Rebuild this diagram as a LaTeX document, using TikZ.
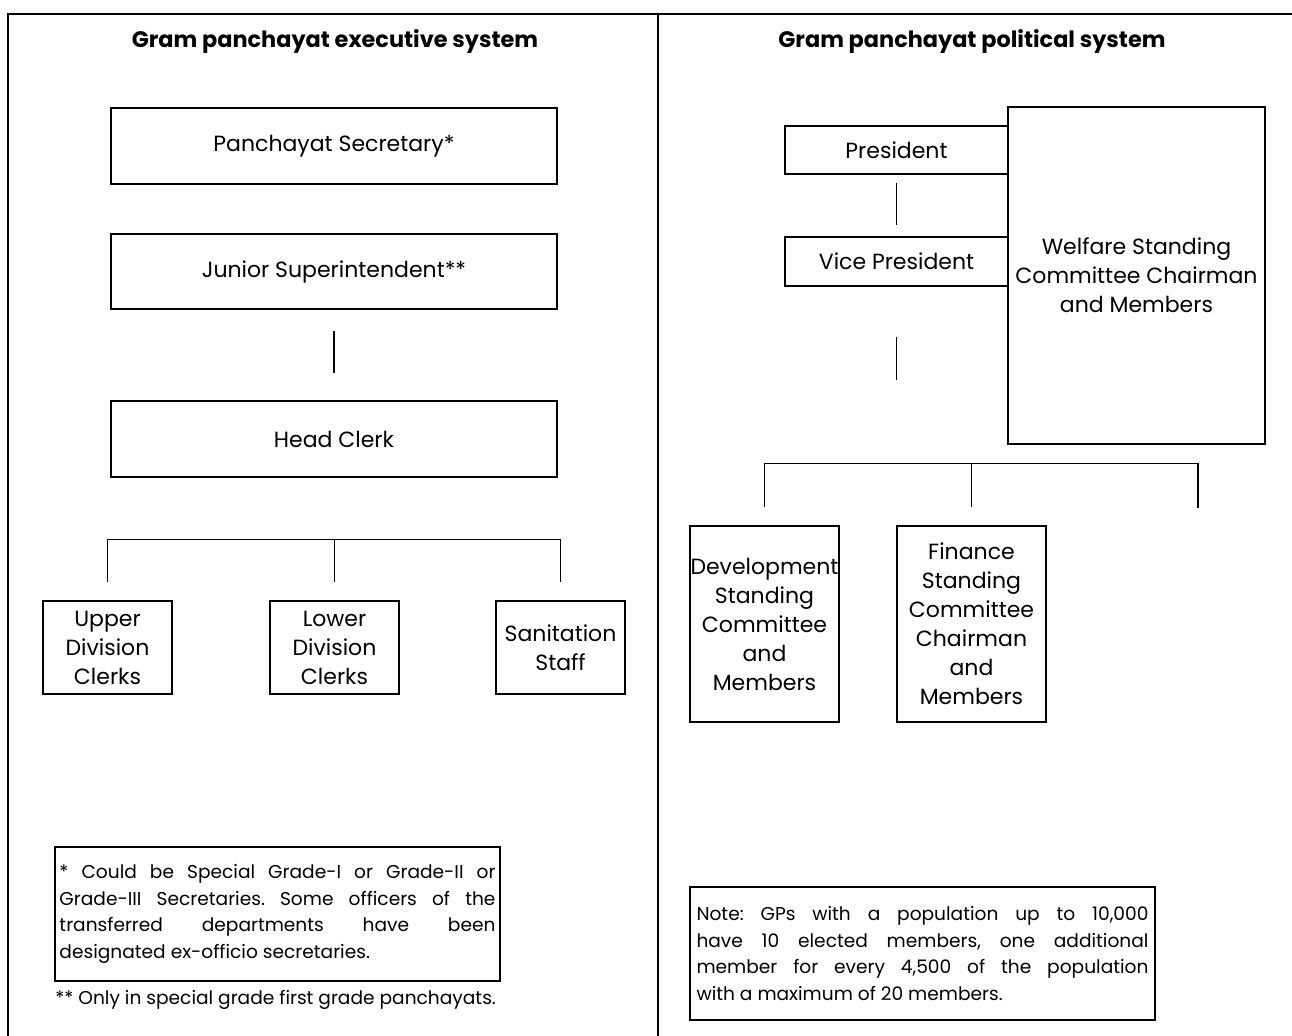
\documentclass[tikz,border=0pt]{standalone}
\usepackage{fontspec}
\setmainfont{Poppins}
\usetikzlibrary{calc}
\frenchspacing
\newcommand{\boxfont}{\fontsize{11}{14.5}\selectfont}
\newcommand{\headfont}{\fontsize{11.2}{13}\selectfont\bfseries}
\newcommand{\smallfont}{\fontsize{9.3}{13.4}\selectfont}
\tikzset{
  box/.style={draw, line width=0.6pt, inner sep=0pt, align=center, font=\boxfont},
  notebox/.style={draw, line width=0.6pt, inner ysep=0pt, align=justify, font=\smallfont},
  link/.style={line width=0.6pt},
  frame/.style={line width=1pt}
}

\begin{document}
\begin{tikzpicture}[x=0.5pt,y=-0.5pt]
    \useasboundingbox (0,0) rectangle (1292,1036);
    % frame
    \draw[frame] (8,1036) -- (8,14) -- (1292,14);
    \draw[frame] (658,14) -- (658,1036);
    % executive side
    \node[font=\headfont] (ltitle) at (335,42) {Gram panchayat executive system};
    \node[box, minimum width=223pt, minimum height=38pt] (ps) at (334,146) {Panchayat Secretary*};
    \node[box, minimum width=223pt, minimum height=37.5pt] (js) at (334,271.5) {Junior Superintendent**};
    \node[box, minimum width=223pt, minimum height=38pt] (hc) at (334,439) {Head Clerk};
    \node[box, minimum width=64.5pt, minimum height=46.5pt] (udc) at (107.5,647.5) {Upper\\Division\\Clerks};
    \node[box, minimum width=64.5pt, minimum height=46.5pt] (ldc) at (334.5,647.5) {Lower\\Division\\Clerks};
    \node[box, minimum width=64.5pt, minimum height=46.5pt] (ss) at (560.5,647.5) {Sanitation\\Staff};
    \draw[link, shorten <=10.5pt, shorten >=13.5pt] (js) -- (hc);
    \draw[link] ([yshift=9pt]udc.north) -- ([yshift=30.5pt]udc.north) -| ([yshift=9pt]ss.north);
    \draw[link] ([yshift=9pt]ldc.north) -- ([yshift=30.5pt]ldc.north);
    \node[notebox, text width=218pt, inner xsep=2.25pt, minimum height=67pt] (fn1) at (277.5,914)
      {* Could be Special Grade-I or Grade-II or\linebreak Grade-III Secretaries. Some officers of the\linebreak transferred departments have been\linebreak designated ex-officio secretaries.};
    \node[font=\smallfont, anchor=west, inner sep=0pt] (fn2) at (55,1000) {** Only in special grade first grade panchayats.};
    % political side
    \node[font=\headfont] (rtitle) at (972,42) {Gram panchayat political system};
    \node[box, minimum width=111.5pt, minimum height=24pt] (pres) at (896.5,150) {President};
    \node[box, minimum width=111.5pt, minimum height=24.5pt] (vp) at (896.5,261.5) {Vice President};
    \node[box, minimum width=128.5pt, minimum height=168.5pt] (wel) at (1136.5,275.5) {Welfare Standing\\Committee Chairman\\and Members};
    \node[box, minimum width=74.5pt, minimum height=98pt] (dev) at (764.5,624) {Development\\Standing\\Committee\\and\\Members};
    \node[box, minimum width=74.5pt, minimum height=98pt] (fin) at (971.5,624) {Finance\\Standing\\Committee\\Chairman\\and\\Members};
    \coordinate (vpstub) at (896.5,380);
    \coordinate (blank) at (1198,508);
    \draw[link, shorten <=4pt, shorten >=5.5pt] (pres) -- (vp);
    \draw[link] ([yshift=-25pt]vp.south) -- (vpstub);
    \draw[link] ([yshift=9pt]dev.north) -- ([yshift=31pt]dev.north) -| (blank);
    \draw[link] ([yshift=9pt]fin.north) -- ([yshift=31pt]fin.north);
    \node[notebox, text width=226pt, inner xsep=3.25pt, minimum height=66.5pt] (gpnote) at (922.5,953.5)
      {Note: GPs with a population up to 10,000\linebreak have 10 elected members, one additional\linebreak member for every 4,500 of the population\linebreak with a maximum of 20 members.};
\end{tikzpicture}
\end{document}
